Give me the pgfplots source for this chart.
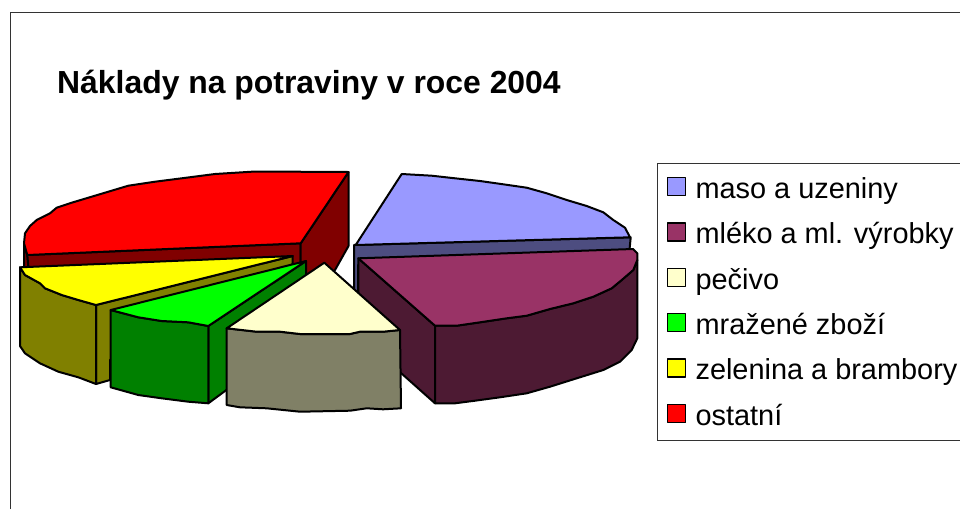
\documentclass[border=0pt]{standalone}
\usepackage{fontspec}
\setmainfont{Liberation Sans}
\usepackage{pgfplots}
\pgfplotsset{compat=1.18}
\definecolor{c1}{HTML}{9999FF}\definecolor{d1}{HTML}{4D4D80}
\definecolor{c2}{HTML}{993366}\definecolor{d2}{HTML}{4D1A33}
\definecolor{c3}{HTML}{FFFFCC}\definecolor{d3}{HTML}{808066}
\definecolor{c4}{HTML}{00FF00}\definecolor{d4}{HTML}{008000}
\definecolor{c5}{HTML}{FFFF00}\definecolor{d5}{HTML}{808000}
\definecolor{c6}{HTML}{FF0000}\definecolor{d6}{HTML}{800000}
\begin{document}
\begin{tikzpicture}
\path[use as bounding box,clip] (0,0) rectangle (960pt,509pt);
\begin{axis}[
  at={(0,0)},anchor=south west,
  scale only axis,width=960pt,height=509pt,
  xmin=0,xmax=960,ymin=0,ymax=509,y dir=reverse,
  hide axis,clip=false,
  title={Náklady na potraviny v roce 2004},
  title style={at={(57/960,{1-91/509})},anchor=west,font=\fontsize{31.9}{36}\selectfont\bfseries,inner sep=0pt},
  legend style={at={(axis cs:657.3,163.3)},anchor=north west,draw=black!80,line width=1pt,
    font=\fontsize{28.9}{34}\selectfont,inner xsep=9pt,inner ysep=2pt,
    nodes={minimum height=45.4pt,inner sep=0pt,yshift=-1.5pt},column sep=0pt},
  legend cell align=left,
  legend image code/.code={\draw[#1,draw=black,line width=1.5pt] (0pt,-8.5pt) rectangle (18pt,9.5pt);\path[draw=none,fill=none] (0pt,0pt) -- (28pt,0pt);},
  every axis plot/.append style={line width=2pt,line join=round},
]
\addlegendimage{fill=c1}\addlegendentry{maso a uzeniny}
\addlegendimage{fill=c2}\addlegendentry{mléko a ml. výrobky}
\addlegendimage{fill=c3}\addlegendentry{pečivo}
\addlegendimage{fill=c4}\addlegendentry{mražené zboží}
\addlegendimage{fill=c5}\addlegendentry{zelenina a brambory}
\addlegendimage{fill=c6}\addlegendentry{ostatní}
% frame
\addplot[draw=black!80,line width=1pt,forget plot] coordinates {(10.5,509)(10.5,12)(960,12)};
% ostatni
\addplot[fill=d6,draw=black,forget plot] coordinates {(24,243.3)(27.3,255)(28.5,268)(24,268)} --cycle;
\addplot[fill=d6,draw=black,forget plot] coordinates {(27.3,255)(300.7,243.3)(300.7,268)(28.5,268)} --cycle;
\addplot[fill=d6,draw=black,forget plot] coordinates {(300.7,243.3)(348.5,172)(348.5,246)(335,270)(322,285)(300.7,270)} --cycle;
\addplot[fill=c6,draw=black,forget plot] coordinates {(300.7,243.3)(348.5,172)(255,171.5)(215,174)(181.7,178.3)(155,181.7)(128.3,185.7)(108.3,191.7)(88.3,197.7)(71.7,202.7)(56.7,207.7)(50,213.3)(36.7,220)(30,226)(25,233.3)(24,243.3)(27.3,255)} --cycle;
% maso
\addplot[fill=d1,draw=black,forget plot] coordinates {(354,245)(630.7,237.3)(629,255)(358,265)(358,292)(354,292)} --cycle;
\addplot[fill=c1,draw=black,forget plot] coordinates {(355.7,245)(401.7,174)(431.7,175.7)(455,178.3)(480,181)(503.3,184.3)(526.7,187.7)(546.7,193.3)(566.7,200)(586.7,206)(603.3,212.3)(613.3,220)(625,227.7)(630,237.3)} --cycle;
% mleko
\addplot[fill=d2,draw=black,forget plot] coordinates {(358.3,258.3)(435,325.7)(435,403.3)(358.3,335)} --cycle;
\addplot[fill=d2,draw=black,forget plot] coordinates {(435,325.7)(456.7,325.7)(480,322.3)(506.7,318.3)(526.7,315.7)(550,309)(573.3,303.3)(593.3,296.7)(611.7,288.3)(621.7,280)(633.3,270)(637.3,260)(637.3,338.3)(631.7,350)(620,361.7)(603.3,370)(576.7,378.3)(550,386.7)(526.7,393.3)(500,397.3)(475,400.7)(455,403.3)(435,403.3)} --cycle;
\addplot[fill=c2,draw=black,forget plot] coordinates {(358.3,258.3)(633,249)(637.3,253.3)(637.3,260)(633.3,270)(621.7,280)(611.7,288.3)(593.3,296.7)(573.3,303.3)(550,309)(526.7,315.7)(506.7,318.3)(480,322.3)(456.7,325.7)(435,325.7)} --cycle;
% zelenina
\addplot[fill=d5,draw=black,forget plot] coordinates {(96,305)(292.7,256)(292.7,264)(110,360)(110,380)(96,384)} --cycle;
\addplot[fill=d5,draw=black,forget plot] coordinates {(20,267.3)(25,275)(40,283.3)(45,288.3)(61.7,295)(78.3,300)(96,305)(96,384)(78.3,377.3)(58.3,371.7)(40,363.3)(25,353.3)(20,346)} --cycle;
\addplot[fill=c5,draw=black,forget plot] coordinates {(20,267.3)(292.7,256)(96,305)(78.3,300)(61.7,295)(45,288.3)(40,283.3)(25,275)} --cycle;
% mrazene
\addplot[fill=d4,draw=black,forget plot] coordinates {(208.3,326)(306,261)(306,275)(240,380)(208.3,403.3)} --cycle;
\addplot[fill=d4,draw=black,forget plot] coordinates {(110.7,310)(138.3,317.3)(161.7,321)(188.3,322.3)(208.3,326)(208.3,403.3)(188.3,401.7)(161.7,398.3)(138.3,395)(110.7,387.3)} --cycle;
\addplot[fill=c4,draw=black,forget plot] coordinates {(110.7,310)(306,261)(208.3,326)(188.3,322.3)(161.7,321)(138.3,317.3)} --cycle;
% pecivo
\addplot[fill=d3,draw=black,forget plot] coordinates {(226.7,328.3)(256.7,331.7)(280,331.7)(300,334)(350,334)(360,331.7)(383,331.7)(400,330)(401,408.3)(383,409.3)(366.7,408.3)(350,410.7)(300,411.7)(266.7,408.3)(240,407.3)(226.7,405)} --cycle;
\addplot[fill=c3,draw=black,forget plot] coordinates {(324.3,262.7)(400,330)(383,331.7)(360,331.7)(350,334)(300,334)(280,331.7)(256.7,331.7)(226.7,328.3)} --cycle;
\end{axis}
\end{tikzpicture}
\end{document}
